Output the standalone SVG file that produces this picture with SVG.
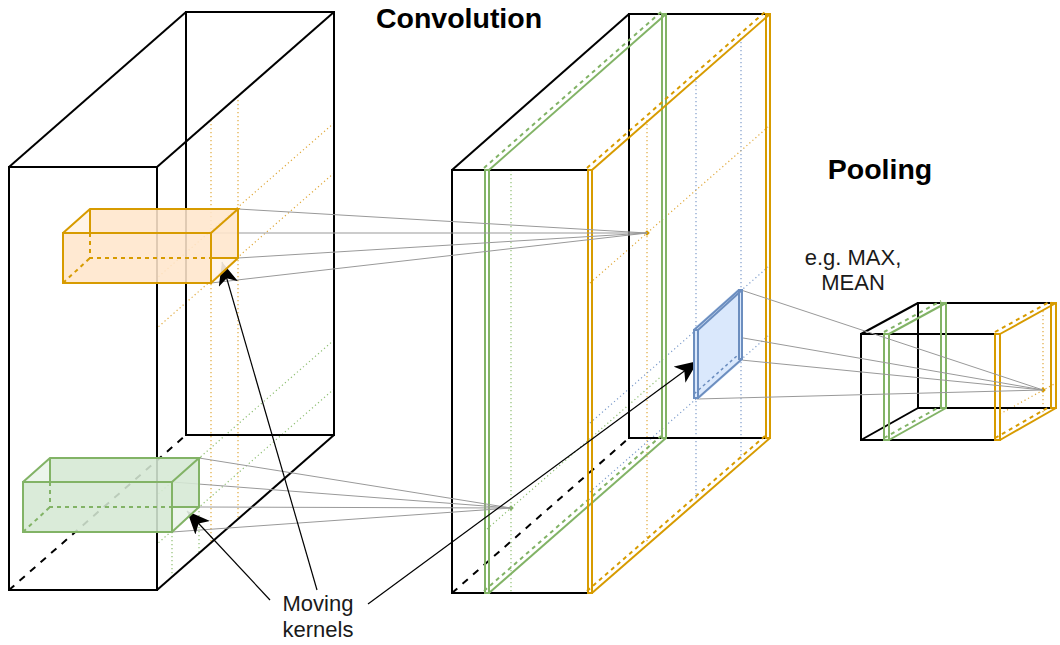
<svg xmlns="http://www.w3.org/2000/svg" width="1060" height="645" viewBox="0 0 1060 645">
<defs>
<style>
.blk{stroke:#000;stroke-width:2;fill:none}
.blkd{stroke:#000;stroke-width:2;fill:none;stroke-dasharray:7,7}
.or{stroke:#d79b00;stroke-width:2;fill:none}
.ord{stroke:#d79b00;stroke-width:2;fill:none;stroke-dasharray:4,4}
.gr{stroke:#82b366;stroke-width:2;fill:none}
.grd{stroke:#82b366;stroke-width:2;fill:none;stroke-dasharray:4,4}
.bl{stroke:#6c8ebf;stroke-width:2;fill:none}
.bld{stroke:#6c8ebf;stroke-width:1.5;fill:none;stroke-dasharray:3,3}
.odot{stroke:#e0a83a;stroke-width:1.2;fill:none;stroke-dasharray:1.2,2.8}
.gdot{stroke:#8fbf73;stroke-width:1.2;fill:none;stroke-dasharray:1.2,2.8}
.bdot{stroke:#7d9ccb;stroke-width:1.2;fill:none;stroke-dasharray:1.2,2.8}
.con{stroke:#999;stroke-width:1;fill:none}
.arr{stroke:#000;stroke-width:1.2;fill:none;marker-end:url(#ah)}
.title{font-family:"Liberation Sans",Arial,sans-serif;font-weight:bold;font-size:28.5px;fill:#000;text-anchor:middle}
.lbl{font-family:"Liberation Sans",Arial,sans-serif;font-size:22px;fill:#1a1a1a;text-anchor:middle}
</style>
<marker id="ah" markerUnits="userSpaceOnUse" markerWidth="26" markerHeight="22" refX="23" refY="10" orient="auto">
<path d="M0,0 L23,10 L0,20 L6,10 z" fill="#000"/>
</marker>
</defs>

<!-- left input volume -->
<g id="input-volume">
<line class="odot" x1="211" y1="120" x2="211" y2="543"/>
<line class="odot" x1="238" y1="96" x2="238" y2="519"/>
<line class="odot" x1="334" y1="123" x2="157" y2="278"/>
<line class="odot" x1="334" y1="173" x2="157" y2="328"/>
<line class="gdot" x1="172" y1="532" x2="172" y2="577"/>
<line class="gdot" x1="199" y1="507" x2="199" y2="553"/>
<line class="gdot" x1="334" y1="340" x2="157" y2="495"/>
<line class="gdot" x1="334" y1="389" x2="157" y2="544"/>
<rect class="blk" x="186" y="12" width="148" height="423"/>
<rect class="blk" x="9" y="167" width="148" height="423"/>
<line class="blk" x1="9" y1="167" x2="186" y2="12"/>
<line class="blk" x1="157" y1="167" x2="334" y2="12"/>
<line class="blk" x1="157" y1="590" x2="334" y2="435"/>
<line class="blkd" x1="9" y1="590" x2="186" y2="435"/>
</g>

<!-- middle convolution volume -->
<g id="conv-volume">
<line class="gdot" x1="511" y1="170" x2="511" y2="593"/>
<line class="gdot" x1="487" y1="529" x2="664" y2="374"/>
<line class="odot" x1="647" y1="120" x2="647" y2="543"/>
<line class="odot" x1="590" y1="283" x2="768" y2="127"/>
<line class="bdot" x1="696" y1="77" x2="696" y2="500"/>
<line class="bdot" x1="741" y1="38" x2="741" y2="461"/>
<line class="bdot" x1="590" y1="423" x2="768" y2="267"/>
<line class="bdot" x1="590" y1="492" x2="768" y2="336"/>
<polyline class="blk" points="765,14 629,14 629,438 765,438"/>
<polyline class="blk" points="587,170 452,170 452,593 587,593"/>
<line class="blk" x1="452" y1="170" x2="629" y2="14"/>
<line class="blkd" x1="452" y1="593" x2="629" y2="438"/>
<!-- green slab -->
<rect class="gr" x="485" y="170" width="4" height="423"/>
<rect class="gr" x="662" y="14" width="4" height="424"/>
<line class="gr" x1="489" y1="170" x2="666" y2="14"/>
<line class="grd" x1="484" y1="168" x2="661" y2="12"/>
<line class="gr" x1="489" y1="593" x2="666" y2="438"/>
<line class="grd" x1="484" y1="591" x2="661" y2="436"/>
<!-- orange slab -->
<rect class="or" x="588" y="170" width="4" height="423"/>
<rect class="or" x="766" y="14" width="4" height="424"/>
<line class="or" x1="592" y1="170" x2="770" y2="14"/>
<line class="ord" x1="587" y1="168" x2="765" y2="12"/>
<line class="or" x1="592" y1="593" x2="770" y2="438"/>
<line class="ord" x1="587" y1="591" x2="765" y2="436"/>
<!-- output points -->
<rect x="645" y="231" width="4" height="4" fill="#d79b00" transform="rotate(45 647 233)"/>
<rect x="509" y="506" width="4" height="4" fill="#82b366" transform="rotate(45 511 508)"/>
</g>

<!-- pooling volume -->
<g id="pool-volume">
<line class="odot" x1="1043" y1="311" x2="1043" y2="414"/>
<line class="odot" x1="1000" y1="414" x2="1056" y2="383"/>
<polyline class="blk" points="1050,303 918,303 918,408 1050,408"/>
<polyline class="blk" points="994,334 861,334 861,440 994,440"/>
<line class="blk" x1="861" y1="334" x2="918" y2="303"/>
<line class="blk" x1="861" y1="440" x2="918" y2="408"/>
<rect class="gr" x="884" y="334" width="5" height="106"/>
<rect class="gr" x="941" y="303" width="5" height="105"/>
<line class="gr" x1="889" y1="334" x2="946" y2="303"/>
<line class="grd" x1="884" y1="332" x2="941" y2="301"/>
<line class="gr" x1="889" y1="440" x2="946" y2="408"/>
<line class="grd" x1="884" y1="438" x2="941" y2="406"/>
<rect class="or" x="995" y="334" width="5" height="106"/>
<rect class="or" x="1051" y="303" width="5" height="105"/>
<line class="or" x1="1000" y1="334" x2="1056" y2="303"/>
<line class="ord" x1="995" y1="332" x2="1051" y2="301"/>
<line class="or" x1="1000" y1="440" x2="1056" y2="408"/>
<line class="ord" x1="995" y1="438" x2="1051" y2="406"/>
<rect x="1041" y="388" width="4" height="4" fill="#d79b00" transform="rotate(45 1043 390)"/>
</g>

<!-- connectors -->
<g id="connectors">
<line class="con" x1="238" y1="209" x2="647" y2="233"/>
<line class="con" x1="211" y1="233" x2="647" y2="233"/>
<line class="con" x1="238" y1="258" x2="647" y2="233"/>
<line class="con" x1="211" y1="283" x2="647" y2="233"/>
<line class="con" x1="199" y1="458" x2="511" y2="508"/>
<line class="con" x1="172" y1="482" x2="511" y2="508"/>
<line class="con" x1="199" y1="507" x2="511" y2="508"/>
<line class="con" x1="172" y1="532" x2="511" y2="508"/>
<line class="con" x1="741" y1="290" x2="1043" y2="390"/>
<line class="con" x1="697" y1="330" x2="1043" y2="390"/>
<line class="con" x1="741" y1="360" x2="1043" y2="390"/>
<line class="con" x1="697" y1="399" x2="1043" y2="390"/>
<line class="arr" x1="317" y1="590" x2="222" y2="262"/>
<line class="arr" x1="270" y1="600" x2="187" y2="511"/>
<line class="arr" x1="368" y1="604" x2="698" y2="361"/>
</g>

<!-- orange kernel -->
<g id="kernel-orange">
<polygon points="90,209 238,209 238,258 211,258 211,283 63,283 63,233 90,233" fill="#ffe6cc" fill-opacity="0.88"/>
<polygon points="63,233 90,209 90,233" fill="#fff3e6" fill-opacity="0.9"/>
<polygon points="211,283 238,258 211,258" fill="#fff3e6" fill-opacity="0.9"/>
<rect class="or" x="63" y="233" width="148" height="50"/>
<polyline class="or" points="63,233 90,209 238,209 211,233"/>
<polyline class="or" points="238,209 238,258 211,283"/>
<line class="or" x1="211" y1="258" x2="238" y2="258"/>
<line class="or" x1="90" y1="209" x2="90" y2="233"/>
<polyline class="ord" points="90,233 90,258 211,258"/>
<line class="ord" x1="63" y1="283" x2="90" y2="258"/>
</g>

<!-- green kernel -->
<g id="kernel-green">
<polygon points="50,458 199,458 199,507 172,507 172,532 23,532 23,482 50,482" fill="#d5e8d4" fill-opacity="0.88"/>
<polygon points="23,482 50,458 50,482" fill="#eaf4ea" fill-opacity="0.9"/>
<polygon points="172,532 199,507 172,507" fill="#eaf4ea" fill-opacity="0.9"/>
<rect class="gr" x="23" y="482" width="149" height="50"/>
<polyline class="gr" points="23,482 50,458 199,458 172,482"/>
<polyline class="gr" points="199,458 199,507 172,532"/>
<line class="gr" x1="172" y1="507" x2="199" y2="507"/>
<line class="gr" x1="50" y1="458" x2="50" y2="482"/>
<polyline class="grd" points="50,482 50,507 172,507"/>
<line class="grd" x1="23" y1="532" x2="50" y2="507"/>
</g>

<!-- blue pooling window -->
<g id="window-blue">
<polygon points="693,329 738,289 743,289 743,360 699,399 693,399" fill="#dae8fc"/>
<rect class="bl" x="694" y="330" width="4" height="68"/>
<rect class="bl" x="739" y="290" width="3" height="69"/>
<line class="bl" x1="694" y1="330" x2="739" y2="290"/>
<line class="bl" x1="698" y1="330" x2="742" y2="290"/>
<line class="bl" x1="698" y1="398" x2="742" y2="359"/>
<line class="bld" x1="694" y1="394" x2="738" y2="355"/>
</g>

<g id="labels">
<text class="title" x="459" y="28">Convolution</text>
<text class="title" x="880" y="179">Pooling</text>
<text class="lbl" x="853" y="265">e.g. MAX,</text>
<text class="lbl" x="853" y="290">MEAN</text>
<text class="lbl" x="318" y="611">Moving</text>
<text class="lbl" x="318" y="637">kernels</text>
</g>
</svg>
